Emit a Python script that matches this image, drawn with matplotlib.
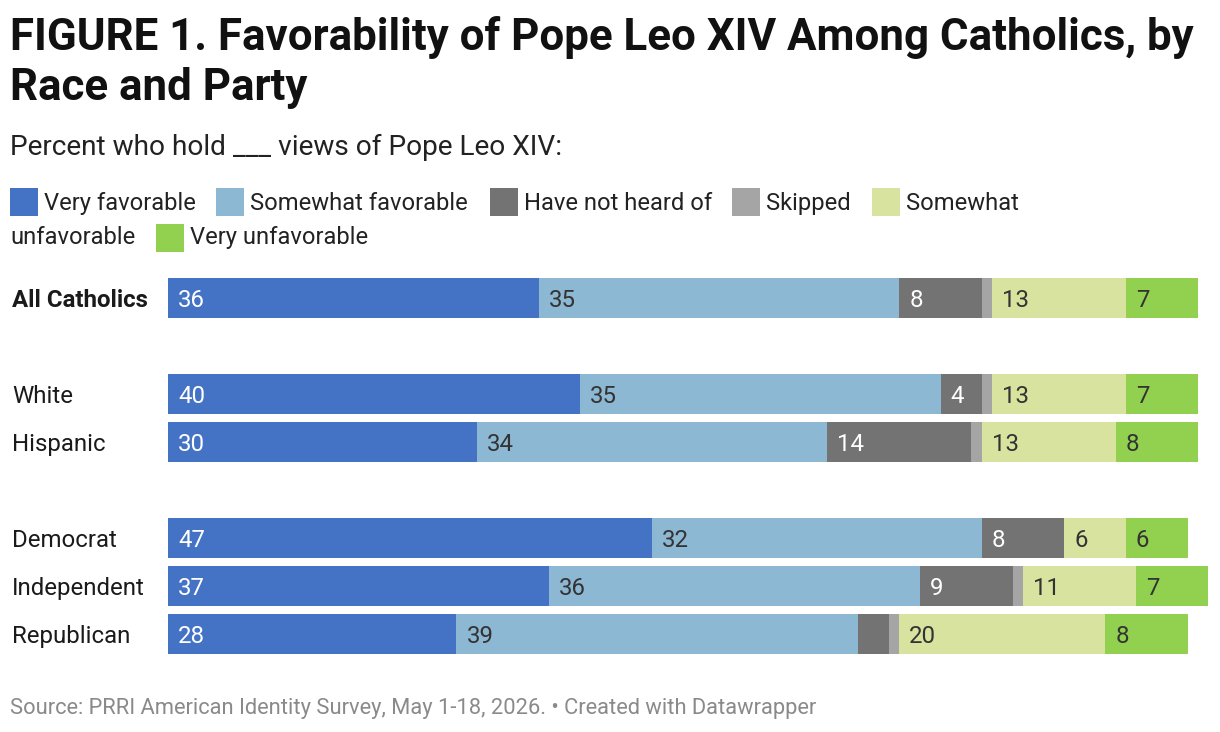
import matplotlib
matplotlib.use('Agg')
import matplotlib.pyplot as plt
from matplotlib.patches import Rectangle

# ---------------- data ----------------
categories = ['All Catholics', 'White', 'Hispanic', 'Democrat', 'Independent', 'Republican']
series = ['Very favorable', 'Somewhat favorable', 'Have not heard of', 'Skipped',
          'Somewhat unfavorable', 'Very unfavorable']
very_fav = [36, 40, 30, 47, 37, 28]
somewhat_fav = [35, 35, 34, 32, 36, 39]
not_heard = [8, 4, 14, 8, 9, 3]
skipped = [1, 1, 1, 0, 1, 1]
somewhat_unfav = [13, 13, 13, 6, 11, 20]
very_unfav = [7, 7, 8, 6, 7, 8]

title_lines = ['FIGURE 1. Favorability of Pope Leo XIV Among Catholics, by', 'Race and Party']
subtitle = 'Percent who hold ___ views of Pope Leo XIV:'
footer = 'Source: PRRI American Identity Survey, May 1-18, 2026. \u2022 Created with Datawrapper'

# ---------------- style ----------------
colors = ['#4472c4', '#8db8d3', '#737373', '#a5a5a5', '#d8e3a0', '#92d050']
label_colors = ['white', '#333333', 'white', '#333333', '#333333', '#333333']
plt.rcParams['font.family'] = ['Roboto', 'DejaVu Sans']

W, H = 1220, 732
fig = plt.figure(figsize=(W / 100, H / 100), dpi=100)
fig.patch.set_facecolor('white')
renderer = fig.canvas.get_renderer()


def fx(x):
    return x / W


def fy(y):
    return 1 - y / H


def fit_text(x, y, s, target_w, base=16, **kw):
    t = fig.text(fx(x), fy(y), s, fontsize=base, va='baseline', ha='left', **kw)
    w = t.get_window_extent(renderer).width
    size = base * target_w / w
    t.set_fontsize(size)
    return t, size


# title
_, tsize = fit_text(10, 50, title_lines[0], 1183, base=28, fontweight='bold', color='#111111')
fig.text(fx(10), fy(100), title_lines[1], fontsize=tsize, fontweight='bold',
         color='#111111', va='baseline', ha='left')
# subtitle
fit_text(10, 155, subtitle, 553, base=18, color='#222222')
# row-label size
probe = fig.text(0, 0, 'Independent', fontsize=16)
lsize = 16 * 133 / probe.get_window_extent(renderer).width
probe.remove()
# legend size
probe = fig.text(0, 0, 'Very favorable', fontsize=16)
legsize = 16 * 152 / probe.get_window_extent(renderer).width
probe.remove()

# legend
sq = 28
row1 = [(10, series[0]), (216, series[1]), (490, series[2]), (732, series[3]), (872, 'Somewhat')]
for i, (x, name) in enumerate(row1):
    fig.patches.append(Rectangle((fx(x), fy(188 + sq)), sq / W, sq / H,
                                 transform=fig.transFigure, color=colors[i], lw=0))
    fig.text(fx(x + 34), fy(210), name, fontsize=legsize, color='#222222', va='baseline')
fig.text(fx(10), fy(244), 'unfavorable', fontsize=legsize, color='#222222', va='baseline')
fig.patches.append(Rectangle((fx(156), fy(224 + sq)), sq / W, sq / H,
                             transform=fig.transFigure, color=colors[5], lw=0))
fig.text(fx(190), fy(244), series[5], fontsize=legsize, color='#222222', va='baseline')

# bars
ax = fig.add_axes([fx(168), fy(658), (1198 - 168) / W, 384 / H])
slots = [0, 2, 3, 5, 6, 7]
ax.set_xlim(0, 100)
ax.set_ylim(7.5, -0.5)
ax.axis('off')

data = [very_fav, somewhat_fav, not_heard, skipped, somewhat_unfav, very_unfav]
left = [0] * len(categories)
cap_px = lsize * 100 / 72 * 0.711
for si, vals in enumerate(data):
    ax.barh(slots, vals, left=left, height=40 / 48, color=colors[si], lw=0, clip_on=False)
    for ri, v in enumerate(vals):
        if v >= 4:
            ax.annotate(str(v), xy=(left[ri], slots[ri]), xytext=(10 * 0.72, -cap_px / 2 * 0.72),
                        textcoords='offset points', fontsize=lsize, color=label_colors[si],
                        va='baseline', ha='left', annotation_clip=False)
    left = [l + v for l, v in zip(left, vals)]

# row labels
for ri, cat in enumerate(categories):
    yc = 274 + 24 + 48 * slots[ri]
    fig.text(fx(12), fy(yc + cap_px / 2), cat, fontsize=lsize,
             fontweight='bold' if ri == 0 else 'normal', color='#1a1a1a', va='baseline')

# footer
fit_text(10, 714, footer, 812, base=14, color='#8a8a8a')

fig.savefig('out.png', dpi=100, facecolor='white')
